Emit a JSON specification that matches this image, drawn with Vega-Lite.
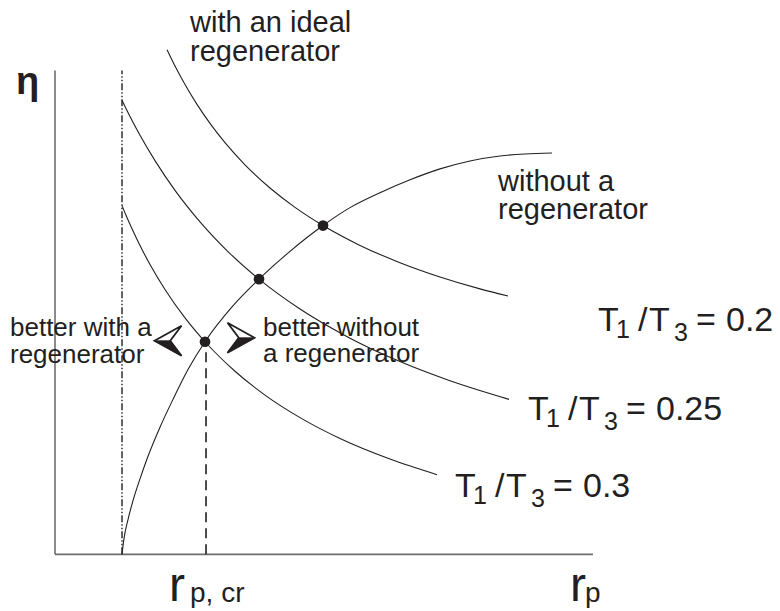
{
  "$schema": "https://vega.github.io/schema/vega-lite/v6.json",
  "width": 780,
  "height": 611,
  "autosize": {"type": "fit", "contains": "padding"},
  "padding": 0,
  "background": "white",
  "config": {
    "view": {"stroke": null},
    "text": {"font": "Liberation Sans", "color": "#231f20"}
  },
  "datasets": {
    "frame": [
      {"part": "eta axis", "x": 0, "y": 0, "x2": 0, "y2": 9.74},
      {"part": "rp axis", "x": 0, "y": 0, "x2": 10.76, "y2": 0}
    ],
    "limit": [
      {"part": "rp = 1", "x": 1.34, "y": 0, "y2": 9.74}
    ],
    "critical": [
      {"part": "rp,cr", "x": 3.02, "y": 0, "y2": 4.28}
    ],
    "curves": [
      {"curve": "ideal 0.2", "x": 2.24, "y": 10.16},
      {"curve": "ideal 0.2", "x": 2.40, "y": 9.83},
      {"curve": "ideal 0.2", "x": 2.60, "y": 9.458},
      {"curve": "ideal 0.2", "x": 2.84, "y": 9.058},
      {"curve": "ideal 0.2", "x": 3.10, "y": 8.676},
      {"curve": "ideal 0.2", "x": 3.40, "y": 8.288},
      {"curve": "ideal 0.2", "x": 3.80, "y": 7.842},
      {"curve": "ideal 0.2", "x": 4.30, "y": 7.376},
      {"curve": "ideal 0.2", "x": 4.80, "y": 6.986},
      {"curve": "ideal 0.2", "x": 5.36, "y": 6.62},
      {"curve": "ideal 0.2", "x": 6.10, "y": 6.22},
      {"curve": "ideal 0.2", "x": 6.90, "y": 5.872},
      {"curve": "ideal 0.2", "x": 7.70, "y": 5.584},
      {"curve": "ideal 0.2", "x": 8.50, "y": 5.344},
      {"curve": "ideal 0.2", "x": 9.06, "y": 5.20},

      {"curve": "ideal 0.25", "x": 1.34, "y": 9.14},
      {"curve": "ideal 0.25", "x": 1.50, "y": 8.814},
      {"curve": "ideal 0.25", "x": 1.70, "y": 8.436},
      {"curve": "ideal 0.25", "x": 2.00, "y": 7.926},
      {"curve": "ideal 0.25", "x": 2.40, "y": 7.328},
      {"curve": "ideal 0.25", "x": 2.90, "y": 6.694},
      {"curve": "ideal 0.25", "x": 3.50, "y": 6.056},
      {"curve": "ideal 0.25", "x": 4.08, "y": 5.54},
      {"curve": "ideal 0.25", "x": 4.90, "y": 4.938},
      {"curve": "ideal 0.25", "x": 5.90, "y": 4.352},
      {"curve": "ideal 0.25", "x": 6.90, "y": 3.88},
      {"curve": "ideal 0.25", "x": 7.90, "y": 3.494},
      {"curve": "ideal 0.25", "x": 9.08, "y": 3.12},

      {"curve": "ideal 0.3", "x": 1.34, "y": 7.02},
      {"curve": "ideal 0.3", "x": 1.42, "y": 6.826},
      {"curve": "ideal 0.3", "x": 1.54, "y": 6.554},
      {"curve": "ideal 0.3", "x": 1.70, "y": 6.218},
      {"curve": "ideal 0.3", "x": 1.90, "y": 5.836},
      {"curve": "ideal 0.3", "x": 2.20, "y": 5.332},
      {"curve": "ideal 0.3", "x": 2.60, "y": 4.76},
      {"curve": "ideal 0.3", "x": 3.00, "y": 4.28},
      {"curve": "ideal 0.3", "x": 3.60, "y": 3.686},
      {"curve": "ideal 0.3", "x": 4.20, "y": 3.206},
      {"curve": "ideal 0.3", "x": 4.90, "y": 2.752},
      {"curve": "ideal 0.3", "x": 5.70, "y": 2.332},
      {"curve": "ideal 0.3", "x": 6.70, "y": 1.918},
      {"curve": "ideal 0.3", "x": 7.64, "y": 1.604},

      {"curve": "no regenerator", "x": 1.34, "y": 0.00},
      {"curve": "no regenerator", "x": 1.38, "y": 0.32},
      {"curve": "no regenerator", "x": 1.46, "y": 0.70},
      {"curve": "no regenerator", "x": 1.56, "y": 1.08},
      {"curve": "no regenerator", "x": 1.70, "y": 1.52},
      {"curve": "no regenerator", "x": 1.84, "y": 1.92},
      {"curve": "no regenerator", "x": 2.10, "y": 2.56},
      {"curve": "no regenerator", "x": 2.36, "y": 3.12},
      {"curve": "no regenerator", "x": 2.66, "y": 3.72},
      {"curve": "no regenerator", "x": 3.00, "y": 4.28},
      {"curve": "no regenerator", "x": 3.54, "y": 4.98},
      {"curve": "no regenerator", "x": 4.08, "y": 5.54},
      {"curve": "no regenerator", "x": 4.70, "y": 6.10},
      {"curve": "no regenerator", "x": 5.36, "y": 6.62},
      {"curve": "no regenerator", "x": 5.90, "y": 6.98},
      {"curve": "no regenerator", "x": 6.50, "y": 7.28},
      {"curve": "no regenerator", "x": 7.10, "y": 7.54},
      {"curve": "no regenerator", "x": 7.70, "y": 7.76},
      {"curve": "no regenerator", "x": 8.30, "y": 7.92},
      {"curve": "no regenerator", "x": 8.90, "y": 8.02},
      {"curve": "no regenerator", "x": 9.40, "y": 8.06},
      {"curve": "no regenerator", "x": 9.94, "y": 8.08}
    ],
    "crossings": [
      {"ratio": "0.3", "x": 3.00, "y": 4.28},
      {"ratio": "0.25", "x": 4.08, "y": 5.54},
      {"ratio": "0.2", "x": 5.36, "y": 6.62}
    ],
    "arrows": [
      {"dir": "left", "x": 2.26, "y": 4.30},
      {"dir": "right", "x": 3.72, "y": 4.36}
    ],
    "labels": [
      {"kind": "note", "text": "with an ideal", "x": 2.70, "y": 10.52},
      {"kind": "note", "text": "regenerator", "x": 2.70, "y": 9.94},
      {"kind": "note", "text": "without a", "x": 8.86, "y": 7.32},
      {"kind": "note", "text": "regenerator", "x": 8.86, "y": 6.76},
      {"kind": "side", "text": "better with a", "x": -0.90, "y": 4.40},
      {"kind": "side", "text": "regenerator", "x": -0.90, "y": 3.86},
      {"kind": "side", "text": "better without", "x": 4.16, "y": 4.40},
      {"kind": "side", "text": "a regenerator", "x": 4.16, "y": 3.88},

      {"kind": "ratio", "text": "T", "x": 10.86, "y": 4.50},
      {"kind": "ratio sub", "text": "1", "x": 11.22, "y": 4.36},
      {"kind": "ratio", "text": "/", "x": 11.66, "y": 4.50},
      {"kind": "ratio", "text": "T", "x": 11.88, "y": 4.50},
      {"kind": "ratio sub", "text": "3", "x": 12.38, "y": 4.30},
      {"kind": "ratio", "text": "=", "x": 12.82, "y": 4.50},
      {"kind": "ratio", "text": "0.2", "x": 13.42, "y": 4.50},

      {"kind": "ratio", "text": "T", "x": 9.46, "y": 2.70},
      {"kind": "ratio sub", "text": "1", "x": 9.82, "y": 2.56},
      {"kind": "ratio", "text": "/", "x": 10.26, "y": 2.70},
      {"kind": "ratio", "text": "T", "x": 10.48, "y": 2.70},
      {"kind": "ratio sub", "text": "3", "x": 10.98, "y": 2.50},
      {"kind": "ratio", "text": "=", "x": 11.42, "y": 2.70},
      {"kind": "ratio", "text": "0.25", "x": 12.02, "y": 2.70},

      {"kind": "ratio", "text": "T", "x": 8.00, "y": 1.16},
      {"kind": "ratio sub", "text": "1", "x": 8.36, "y": 1.02},
      {"kind": "ratio", "text": "/", "x": 8.80, "y": 1.16},
      {"kind": "ratio", "text": "T", "x": 9.02, "y": 1.16},
      {"kind": "ratio sub", "text": "3", "x": 9.52, "y": 0.96},
      {"kind": "ratio", "text": "=", "x": 9.96, "y": 1.16},
      {"kind": "ratio", "text": "0.3", "x": 10.56, "y": 1.16},

      {"kind": "symbol", "text": "r", "x": 2.28, "y": -0.94},
      {"kind": "symbol sub", "text": "p, cr", "x": 2.70, "y": -0.96},
      {"kind": "symbol", "text": "r", "x": 10.30, "y": -0.94},
      {"kind": "symbol sub", "text": "p", "x": 10.60, "y": -0.96},
      {"kind": "eta", "text": "η", "x": -0.55, "y": 9.26}
    ]
  },
  "encoding": {
    "x": {"field": "x", "type": "quantitative", "axis": null,
          "scale": {"domain": [-1.1, 14.5], "nice": false, "zero": false}},
    "y": {"field": "y", "type": "quantitative", "axis": null,
          "scale": {"domain": [-1.06, 11.16], "nice": false, "zero": false}}
  },
  "layer": [
    {
      "data": {"name": "frame"},
      "mark": {"type": "rule", "color": "#6d6e71", "strokeWidth": 1.6},
      "encoding": {"x2": {"field": "x2"}, "y2": {"field": "y2"}}
    },
    {
      "data": {"name": "limit"},
      "mark": {"type": "rule", "color": "#231f20", "strokeWidth": 1.4,
               "strokeDash": [7, 2, 1.5, 2, 1.5, 2]},
      "encoding": {"y2": {"field": "y2"}}
    },
    {
      "data": {"name": "critical"},
      "mark": {"type": "rule", "color": "#231f20", "strokeWidth": 1.6,
               "strokeDash": [10, 6]},
      "encoding": {"y2": {"field": "y2"}}
    },
    {
      "data": {"name": "curves"},
      "mark": {"type": "line", "color": "#231f20", "strokeWidth": 1.1,
               "interpolate": "monotone"},
      "encoding": {"detail": {"field": "curve"}}
    },
    {
      "data": {"name": "crossings"},
      "mark": {"type": "point", "filled": true, "color": "#231f20",
               "size": 115, "opacity": 1}
    },
    {
      "data": {"name": "arrows"},
      "transform": [{"filter": "datum.dir === 'left'"}],
      "mark": {"type": "point", "shape": "M-0.9,0L0.9,-1L0.15,0L0.9,1Z",
               "size": 900, "filled": true, "fill": "white",
               "stroke": "#231f20", "strokeWidth": 1.8, "opacity": 1}
    },
    {
      "data": {"name": "arrows"},
      "transform": [{"filter": "datum.dir === 'left'"}],
      "mark": {"type": "point", "shape": "M-0.9,0L0.15,0L0.9,1Z",
               "size": 900, "filled": true, "fill": "#231f20",
               "stroke": "#231f20", "strokeWidth": 0.8, "opacity": 1}
    },
    {
      "data": {"name": "arrows"},
      "transform": [{"filter": "datum.dir === 'right'"}],
      "mark": {"type": "point", "shape": "M0.9,0L-0.9,-1L-0.15,0L-0.9,1Z",
               "size": 900, "filled": true, "fill": "white",
               "stroke": "#231f20", "strokeWidth": 1.8, "opacity": 1}
    },
    {
      "data": {"name": "arrows"},
      "transform": [{"filter": "datum.dir === 'right'"}],
      "mark": {"type": "point", "shape": "M0.9,0L-0.15,0L-0.9,1Z",
               "size": 900, "filled": true, "fill": "#231f20",
               "stroke": "#231f20", "strokeWidth": 0.8, "opacity": 1}
    },
    {
      "data": {"name": "labels"},
      "transform": [{"filter": "datum.kind === 'note'"}],
      "mark": {"type": "text", "fontSize": 29, "align": "left", "baseline": "alphabetic"},
      "encoding": {"text": {"field": "text"}}
    },
    {
      "data": {"name": "labels"},
      "transform": [{"filter": "datum.kind === 'side'"}],
      "mark": {"type": "text", "fontSize": 26, "align": "left", "baseline": "alphabetic"},
      "encoding": {"text": {"field": "text"}}
    },
    {
      "data": {"name": "labels"},
      "transform": [{"filter": "datum.kind === 'ratio'"}],
      "mark": {"type": "text", "fontSize": 34, "align": "left", "baseline": "alphabetic"},
      "encoding": {"text": {"field": "text"}}
    },
    {
      "data": {"name": "labels"},
      "transform": [{"filter": "datum.kind === 'ratio sub'"}],
      "mark": {"type": "text", "fontSize": 25, "align": "left", "baseline": "alphabetic"},
      "encoding": {"text": {"field": "text"}}
    },
    {
      "data": {"name": "labels"},
      "transform": [{"filter": "datum.kind === 'symbol'"}],
      "mark": {"type": "text", "fontSize": 48, "align": "left", "baseline": "alphabetic"},
      "encoding": {"text": {"field": "text"}}
    },
    {
      "data": {"name": "labels"},
      "transform": [{"filter": "datum.kind === 'symbol sub'"}],
      "mark": {"type": "text", "fontSize": 28, "align": "left", "baseline": "alphabetic"},
      "encoding": {"text": {"field": "text"}}
    },
    {
      "data": {"name": "labels"},
      "transform": [{"filter": "datum.kind === 'eta'"}],
      "mark": {"type": "text", "fontSize": 38, "fontWeight": "bold", "align": "center", "baseline": "alphabetic"},
      "encoding": {"text": {"field": "text"}}
    }
  ]
}
